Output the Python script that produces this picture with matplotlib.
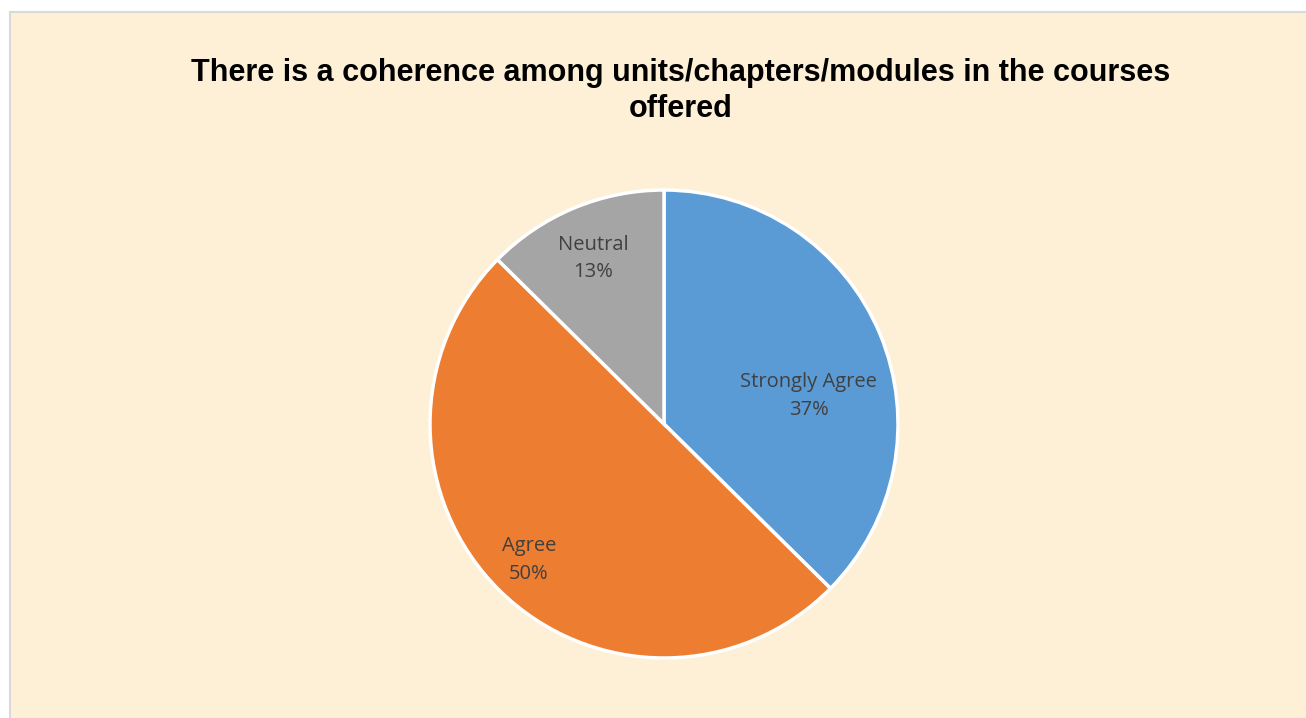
import matplotlib.pyplot as plt
from matplotlib.patches import Rectangle
import numpy as np

# Data
categories = ['Strongly Agree', 'Agree', 'Neutral']
shares = [37.4, 50.0, 12.6]
colors = ['#5B9BD5', '#ED7D31', '#A5A5A5']
title = 'There is a coherence among units/chapters/modules in the courses\noffered'

W, H = 1306, 718
fig = plt.figure(figsize=(W / 100, H / 100), dpi=100)
fig.patch.set_facecolor('white')

# chart area with parchment fill and a thin grey frame
bg = Rectangle((10 / W, -0.01), 1.02, 1 - 12 / H + 0.01, transform=fig.transFigure,
               facecolor='#FDF0D6', edgecolor='#D9D9D9', linewidth=1.5, zorder=-5)
fig.patches.append(bg)

fig.text(681 / W, 1 - 91 / H, title, ha='center', va='center', fontsize=22,
         fontweight='bold', family='Liberation Sans', color='black', linespacing=1.25)

# pie axes: centre (664, 424) px, radius 234 px
r = 234
ax = fig.add_axes([(664 - r) / W, (H - 424 - r) / H, 2 * r / W, 2 * r / H])
ax.set_zorder(2)
wedges, _ = ax.pie(shares, colors=colors, startangle=90, counterclock=False, radius=1,
                   wedgeprops=dict(edgecolor='white', linewidth=2.5))
ax.set_xlim(-1, 1)
ax.set_ylim(-1, 1)
ax.set_aspect('equal')
ax.axis('off')

# label placement (radius fraction, angle in degrees), like Excel's best fit
label_pos = [(0.63, 11), (0.82, -134.8), (0.77, 113.2)]
for name, val, (lr, ang) in zip(categories, shares, label_pos):
    a = np.deg2rad(ang)
    ax.text(lr * np.cos(a), lr * np.sin(a), f'{name}\n{round(val)}%', ha='center', va='center',
            fontsize=14.5, color='#404040', family='Open Sans', linespacing=1.5)

fig.savefig('out.png', dpi=100, facecolor=fig.get_facecolor())
